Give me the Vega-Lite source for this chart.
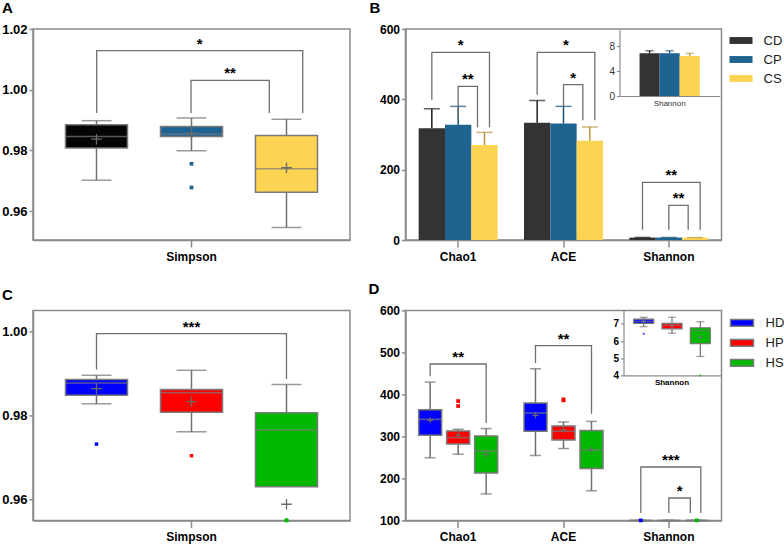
{
"$schema":"https://vega.github.io/schema/vega-lite/v6.json",
"background":"white",
"padding":{"left":0,"top":0,"right":0,"bottom":0},
"config":{
 "font":"Liberation Sans",
 "view":{"stroke":"#8a8a8a","strokeWidth":1.5},
 "axis":{"grid":false,"labelFont":"Liberation Sans","labelFontWeight":"bold","labelFontSize":12,"labelColor":"#000","domainColor":"#8a8a8a","tickColor":"#8a8a8a","domainWidth":1.5,"tickWidth":1.5},
 "legend":{"labelFont":"Liberation Sans","labelFontSize":13,"labelColor":"#222"}
},
"datasets":{
 "a_box":[
  {"metric":"Simpson","group":"CD","lower":0.9702,"q1":0.9808,"median":0.9846,"q3":0.9885,"upper":0.9898,"mean":0.9837},
  {"metric":"Simpson","group":"CP","lower":0.9799,"q1":0.9846,"median":0.9854,"q3":0.9879,"upper":0.9907,"mean":0.9857},
  {"metric":"Simpson","group":"CS","lower":0.9546,"q1":0.9662,"median":0.974,"q3":0.9849,"upper":0.9903,"mean":0.9743}],
 "a_out":[
  {"metric":"Simpson","group":"CP","value":0.9756},
  {"metric":"Simpson","group":"CP","value":0.9678}],
 "a_brk":[
  {"metric":"Simpson","pair":"CD-CS","group":"CD","k":1,"v":0.9923},
  {"metric":"Simpson","pair":"CD-CS","group":"CD","k":2,"v":1.0129},
  {"metric":"Simpson","pair":"CD-CS","group":"CS","k":3,"v":1.0129},
  {"metric":"Simpson","pair":"CD-CS","group":"CS","k":4,"v":0.9923},
  {"metric":"Simpson","pair":"CP-CS","group":"CP","k":1,"v":0.9923},
  {"metric":"Simpson","pair":"CP-CS","group":"CP","k":2,"v":1.0031},
  {"metric":"Simpson","pair":"CP-CS","group":"CS","k":3,"v":1.0031},
  {"metric":"Simpson","pair":"CP-CS","group":"CS","k":4,"v":0.9923}],
 "a_star":[
  {"metric":"Simpson","pair":"CD-CS","group":"CP","v":1.0129,"label":"*"},
  {"metric":"Simpson","pair":"CP-CS","group":"CP","v":1.0031,"label":"**"}],
 "b_bar":[
  {"metric":"Chao1","group":"CD","mean":317.5,"hi":373.5},
  {"metric":"Chao1","group":"CP","mean":328,"hi":380},
  {"metric":"Chao1","group":"CS","mean":270.3,"hi":306},
  {"metric":"ACE","group":"CD","mean":333.7,"hi":397},
  {"metric":"ACE","group":"CP","mean":331,"hi":380},
  {"metric":"ACE","group":"CS","mean":282.5,"hi":321.5},
  {"metric":"Shannon","group":"CD","mean":6.88,"hi":7.3},
  {"metric":"Shannon","group":"CP","mean":6.9,"hi":7.3},
  {"metric":"Shannon","group":"CS","mean":6.45,"hi":6.88}],
 "b_brk":[
  {"metric":"Chao1","pair":"CD-CS","group":"CD","k":1,"v":399},
  {"metric":"Chao1","pair":"CD-CS","group":"CD","k":2,"v":533.7},
  {"metric":"Chao1","pair":"CD-CS","group":"CS","k":3,"v":533.7},
  {"metric":"Chao1","pair":"CD-CS","group":"CS","k":4,"v":320.3},
  {"metric":"Chao1","pair":"CP-CS","group":"CP","k":1,"v":347},
  {"metric":"Chao1","pair":"CP-CS","group":"CP","k":2,"v":437},
  {"metric":"Chao1","pair":"CP-CS","group":"CS","k":3,"v":437},
  {"metric":"Chao1","pair":"CP-CS","group":"CS","k":4,"v":320.3},
  {"metric":"ACE","pair":"CD-CS","group":"CD","k":1,"v":413},
  {"metric":"ACE","pair":"CD-CS","group":"CD","k":2,"v":533.7},
  {"metric":"ACE","pair":"CD-CS","group":"CS","k":3,"v":533.7},
  {"metric":"ACE","pair":"CD-CS","group":"CS","k":4,"v":340.3},
  {"metric":"ACE","pair":"CP-CS","group":"CP","k":1,"v":380},
  {"metric":"ACE","pair":"CP-CS","group":"CP","k":2,"v":441.8},
  {"metric":"ACE","pair":"CP-CS","group":"CS","k":3,"v":441.8},
  {"metric":"ACE","pair":"CP-CS","group":"CS","k":4,"v":340.3},
  {"metric":"Shannon","pair":"CD-CS","group":"CD","k":1,"v":29.3},
  {"metric":"Shannon","pair":"CD-CS","group":"CD","k":2,"v":164},
  {"metric":"Shannon","pair":"CD-CS","group":"CS","k":3,"v":164},
  {"metric":"Shannon","pair":"CD-CS","group":"CS","k":4,"v":29.3},
  {"metric":"Shannon","pair":"CP-CS","group":"CP","k":1,"v":29.3},
  {"metric":"Shannon","pair":"CP-CS","group":"CP","k":2,"v":98.4},
  {"metric":"Shannon","pair":"CP-CS","group":"CS","k":3,"v":98.4},
  {"metric":"Shannon","pair":"CP-CS","group":"CS","k":4,"v":29.3}],
 "b_star":[
  {"metric":"Chao1","pair":"CD-CS","group":"CP","v":533.7,"label":"*"},
  {"metric":"Chao1","pair":"CP-CS","group":"CP","v":437,"label":"**"},
  {"metric":"ACE","pair":"CD-CS","group":"CP","v":533.7,"label":"*"},
  {"metric":"ACE","pair":"CP-CS","group":"CP","v":441.8,"label":"*"},
  {"metric":"Shannon","pair":"CD-CS","group":"CP","v":164,"label":"**"},
  {"metric":"Shannon","pair":"CP-CS","group":"CP","v":98.4,"label":"**"}],
 "c_box":[
  {"metric":"Simpson","group":"HD","lower":0.98276,"q1":0.9848,"median":0.98774,"q3":0.98853,"upper":0.98955,"mean":0.98639},
  {"metric":"Simpson","group":"HP","lower":0.9761,"q1":0.98076,"median":0.98537,"q3":0.98615,"upper":0.99074,"mean":0.9833},
  {"metric":"Simpson","group":"HS","lower":0.96304,"q1":0.96304,"median":0.97648,"q3":0.98062,"upper":0.98734,"mean":0.95884}],
 "c_out":[
  {"metric":"Simpson","group":"HD","value":0.97316},
  {"metric":"Simpson","group":"HP","value":0.9704},
  {"metric":"Simpson","group":"HS","value":0.954},
  {"metric":"Simpson","group":"HS","value":0.9535},
  {"metric":"Simpson","group":"HS","value":0.953}],
 "c_brk":[
  {"metric":"Simpson","pair":"HD-HS","group":"HD","k":1,"v":0.9909},
  {"metric":"Simpson","pair":"HD-HS","group":"HD","k":2,"v":0.99945},
  {"metric":"Simpson","pair":"HD-HS","group":"HS","k":3,"v":0.99945},
  {"metric":"Simpson","pair":"HD-HS","group":"HS","k":4,"v":0.98869}],
 "c_star":[
  {"metric":"Simpson","pair":"HD-HS","group":"HP","v":0.99945,"label":"***"}],
 "d_box":[
  {"metric":"Chao1","group":"HD","lower":249,"q1":302.8,"median":340.7,"q3":363.6,"upper":429.2,"mean":338.3},
  {"metric":"Chao1","group":"HP","lower":257.7,"q1":282.2,"median":297.2,"q3":313,"upper":317,"mean":302.8},
  {"metric":"Chao1","group":"HS","lower":162.9,"q1":212.7,"median":265.6,"q3":301.2,"upper":318.6,"mean":257.7},
  {"metric":"ACE","group":"HD","lower":254.5,"q1":312.3,"median":355.7,"q3":379.4,"upper":461.2,"mean":350.2},
  {"metric":"ACE","group":"HP","lower":271.1,"q1":291.7,"median":312.3,"q3":324.9,"upper":334.4,"mean":315.4},
  {"metric":"ACE","group":"HS","lower":170.7,"q1":223.8,"median":267.6,"q3":314.3,"upper":335.7,"mean":268},
  {"metric":"Shannon","group":"HD","lower":6.83,"q1":7.02,"median":7.15,"q3":7.27,"upper":7.38,"mean":7.15},
  {"metric":"Shannon","group":"HP","lower":6.45,"q1":6.71,"median":6.92,"q3":7.02,"upper":7.38,"mean":6.88},
  {"metric":"Shannon","group":"HS","lower":5.1,"q1":5.85,"median":6.61,"q3":6.77,"upper":7.12,"mean":6.22}],
 "d_out":[
  {"metric":"Chao1","group":"HP","value":384.2},
  {"metric":"Chao1","group":"HP","value":372.3},
  {"metric":"ACE","group":"HP","value":385.8},
  {"metric":"ACE","group":"HP","value":388.1},
  {"metric":"Shannon","group":"HD","value":6.42},
  {"metric":"Shannon","group":"HS","value":4.0}],
 "d_brk":[
  {"metric":"Chao1","pair":"HD-HS","group":"HD","k":1,"v":443},
  {"metric":"Chao1","pair":"HD-HS","group":"HD","k":2,"v":472.4},
  {"metric":"Chao1","pair":"HD-HS","group":"HS","k":3,"v":472.4},
  {"metric":"Chao1","pair":"HD-HS","group":"HS","k":4,"v":332},
  {"metric":"ACE","pair":"HD-HS","group":"HD","k":1,"v":474.8},
  {"metric":"ACE","pair":"HD-HS","group":"HD","k":2,"v":516},
  {"metric":"ACE","pair":"HD-HS","group":"HS","k":3,"v":516},
  {"metric":"ACE","pair":"HD-HS","group":"HS","k":4,"v":354},
  {"metric":"Shannon","pair":"HD-HS","group":"HD","k":1,"v":117.6},
  {"metric":"Shannon","pair":"HD-HS","group":"HD","k":2,"v":227.1},
  {"metric":"Shannon","pair":"HD-HS","group":"HS","k":3,"v":227.1},
  {"metric":"Shannon","pair":"HD-HS","group":"HS","k":4,"v":117.6},
  {"metric":"Shannon","pair":"HP-HS","group":"HP","k":1,"v":117.6},
  {"metric":"Shannon","pair":"HP-HS","group":"HP","k":2,"v":153.3},
  {"metric":"Shannon","pair":"HP-HS","group":"HS","k":3,"v":153.3},
  {"metric":"Shannon","pair":"HP-HS","group":"HS","k":4,"v":117.6}],
 "d_star":[
  {"metric":"Chao1","pair":"HD-HS","group":"HP","v":472.4,"label":"**"},
  {"metric":"ACE","pair":"HD-HS","group":"HP","v":516,"label":"**"},
  {"metric":"Shannon","pair":"HD-HS","group":"HP","v":227.1,"label":"***"},
  {"metric":"Shannon","pair":"HP-HS","group":"HP","v":153.3,"label":"*"}]
},
"columns":2,
"bounds":"flush",
"spacing":{"row":70.4,"column":55.5},
"resolve":{"scale":{"color":"independent","xOffset":"independent","stroke":"independent","fill":"independent"},"legend":{"color":"independent"}},
"concat":[
{
 "width":317,"height":211,
 "title":{"text":"A","anchor":"start","frame":"group","dx":-31,"offset":7,"fontSize":15,"fontWeight":"bold","color":"#000"},
 "layer":[
  {"data":{"name":"a_box"},
   "layer":[
   {"mark":{"type":"rule","color":"#6f6f6f","strokeWidth":1.5},
    "encoding":{
     "x":{"field":"metric","type":"nominal","title":null,"scale":{"paddingInner":0,"paddingOuter":0},"axis":{"labelAngle":0,"tickSize":7,"labelPadding":4}},
     "xOffset":{"field":"group","type":"nominal","scale":{"domain":["CD","CP","CS"],"paddingInner":0.347,"paddingOuter":0.342}},
     "y":{"field":"lower","type":"quantitative","title":null,"scale":{"domain":[0.9505,1.02],"nice":false,"zero":false,"clamp":true},"axis":{"values":[0.96,0.98,1.0,1.02],"format":".2f","tickSize":4,"labelFontSize":13}},
     "y2":{"field":"q1"}}},
   {"mark":{"type":"rule","color":"#6f6f6f","strokeWidth":1.5},
    "encoding":{"x":{"field":"metric","type":"nominal","title":null},"xOffset":{"field":"group","type":"nominal"},"y":{"field":"q3","type":"quantitative","title":null},"y2":{"field":"upper"}}},
   {"mark":{"type":"tick","color":"#6f6f6f","thickness":1.5,"size":30},
    "encoding":{"x":{"field":"metric","type":"nominal","title":null},"xOffset":{"field":"group","type":"nominal"},"y":{"field":"lower","type":"quantitative","title":null}}},
   {"mark":{"type":"tick","color":"#6f6f6f","thickness":1.5,"size":30},
    "encoding":{"x":{"field":"metric","type":"nominal","title":null},"xOffset":{"field":"group","type":"nominal"},"y":{"field":"upper","type":"quantitative","title":null}}},
   {"mark":{"type":"bar","stroke":"#7a7a7a","strokeWidth":1.5},
    "encoding":{"x":{"field":"metric","type":"nominal","title":null},"xOffset":{"field":"group","type":"nominal"},"y":{"field":"q1","type":"quantitative","title":null},"y2":{"field":"q3"},
     "color":{"field":"group","type":"nominal","scale":{"domain":["CD","CP","CS"],"range":["#050505","#1c6393","#fdd452"]},"legend":null}}},
   {"mark":{"type":"tick","color":"#7a7a7a","thickness":1.5,"size":62},
    "encoding":{"x":{"field":"metric","type":"nominal","title":null},"xOffset":{"field":"group","type":"nominal"},"y":{"field":"median","type":"quantitative","title":null}}},
   {"mark":{"type":"point","shape":"M-1,0H1M0,-1V1","filled":false,"color":"#6a6a6a","strokeWidth":1.3,"size":110,"opacity":1},
    "encoding":{"x":{"field":"metric","type":"nominal","title":null},"xOffset":{"field":"group","type":"nominal"},"y":{"field":"mean","type":"quantitative","title":null}}},
   {"data":{"name":"a_out"},"mark":{"type":"point","shape":"square","filled":true,"size":14,"opacity":1},
    "encoding":{"x":{"field":"metric","type":"nominal","title":null},"xOffset":{"field":"group","type":"nominal"},"y":{"field":"value","type":"quantitative","title":null},
     "color":{"field":"group","type":"nominal","legend":null}}}
  ]},
  {"layer":[
   {"data":{"name":"a_brk"},"transform":[{"filter":{"field":"pair","equal":"CD-CS"}}],"mark":{"type":"line","color":"#6f6f6f","strokeWidth":1.3},
    "encoding":{"x":{"field":"metric","type":"nominal","title":null},"xOffset":{"field":"group","type":"nominal","scale":{"type":"point","domain":["CD","CP","CS"],"range":[63.7,269.7],"padding":0}},"y":{"field":"v","type":"quantitative","title":null},"order":{"field":"k","type":"quantitative"}}},
   {"data":{"name":"a_star"},"transform":[{"filter":{"field":"pair","equal":"CD-CS"}}],"mark":{"type":"text","fontSize":15,"fontWeight":"bold","baseline":"alphabetic","dy":-2,"color":"#000"},
    "encoding":{"x":{"field":"metric","type":"nominal","title":null},"xOffset":{"field":"group","type":"nominal"},"y":{"field":"v","type":"quantitative","title":null},"text":{"field":"label"}}}
  ]},
  {"layer":[
   {"data":{"name":"a_brk"},"transform":[{"filter":{"field":"pair","equal":"CP-CS"}}],"mark":{"type":"line","color":"#6f6f6f","strokeWidth":1.3},
    "encoding":{"x":{"field":"metric","type":"nominal","title":null},"xOffset":{"field":"group","type":"nominal","scale":{"type":"point","domain":["CD","CP","CS"],"range":[79.7,236.3],"padding":0}},"y":{"field":"v","type":"quantitative","title":null},"order":{"field":"k","type":"quantitative"}}},
   {"data":{"name":"a_star"},"transform":[{"filter":{"field":"pair","equal":"CP-CS"}}],"mark":{"type":"text","fontSize":15,"fontWeight":"bold","baseline":"alphabetic","dy":-2,"dx":39,"color":"#000"},
    "encoding":{"x":{"field":"metric","type":"nominal","title":null},"xOffset":{"field":"group","type":"nominal"},"y":{"field":"v","type":"quantitative","title":null},"text":{"field":"label"}}}
  ]}
 ],
 "resolve":{"scale":{"xOffset":"independent"}}
},
{
 "width":316,"height":211,
 "title":{"text":"B","anchor":"start","frame":"group","dx":-36,"offset":7,"fontSize":15,"fontWeight":"bold","color":"#000"},
 "layer":[
  {"layer":[
   {"data":{"name":"b_bar"},
    "layer":[
    {"mark":{"type":"bar"},
     "encoding":{
      "x":{"field":"metric","type":"nominal","title":null,"sort":["Chao1","ACE","Shannon"],"scale":{"domain":["Chao1","ACE","Shannon"],"paddingInner":0,"paddingOuter":0},"axis":{"orient":"bottom","labelAngle":0,"tickSize":7,"labelPadding":4}},
      "xOffset":{"field":"group","type":"nominal","scale":{"domain":["CD","CP","CS"],"paddingInner":0,"paddingOuter":0.5}},
      "y":{"field":"mean","type":"quantitative","title":null,"scale":{"domain":[0,600],"nice":false},"axis":{"orient":"left","values":[0,200,400,600],"tickSize":4}},
      "color":{"field":"group","type":"nominal","scale":{"domain":["CD","CP","CS"],"range":["#333333","#1f6391","#fdd452"]},
       "legend":{"title":null,"orient":"right","offset":8,"padding":0,"rowPadding":0,"symbolType":"M-1,-0.3H1V0.3H-1Z","symbolSize":529,"symbolStrokeWidth":0,"labelOffset":11,"labelFontSize":13}}}},
    {"mark":{"type":"rule","strokeWidth":1.5},
     "encoding":{"x":{"field":"metric","type":"nominal","title":null},"xOffset":{"field":"group","type":"nominal"},"y":{"field":"mean","type":"quantitative","title":null},"y2":{"field":"hi"},
      "stroke":{"field":"group","type":"nominal","scale":{"domain":["CD","CP","CS"],"range":["#1e1e1e","#17507a","#b8943a"]},"legend":null}}},
    {"mark":{"type":"tick","thickness":1.5,"size":16},
     "encoding":{"x":{"field":"metric","type":"nominal","title":null},"xOffset":{"field":"group","type":"nominal"},"y":{"field":"hi","type":"quantitative","title":null},
      "fill":{"field":"group","type":"nominal","scale":{"domain":["CD","CP","CS"],"range":["#1e1e1e","#17507a","#b8943a"]},"legend":null}}}
   ]},
   {"layer":[
    {"data":{"name":"b_brk"},"transform":[{"filter":{"field":"pair","equal":"CD-CS"}}],"mark":{"type":"line","color":"#6f6f6f","strokeWidth":1.3},
     "encoding":{"x":{"field":"metric","type":"nominal","title":null},"xOffset":{"field":"group","type":"nominal","scale":{"type":"point","domain":["CD","CP","CS"],"range":[26.33,84],"padding":0}},"y":{"field":"v","type":"quantitative","title":null},"detail":{"field":"metric"},"order":{"field":"k","type":"quantitative"}}},
    {"data":{"name":"b_star"},"transform":[{"filter":{"field":"pair","equal":"CD-CS"}}],"mark":{"type":"text","fontSize":15,"fontWeight":"bold","baseline":"alphabetic","dy":-2,"color":"#000"},
     "encoding":{"x":{"field":"metric","type":"nominal","title":null},"xOffset":{"field":"group","type":"nominal"},"y":{"field":"v","type":"quantitative","title":null},"text":{"field":"label"}}}
   ]},
   {"layer":[
    {"data":{"name":"b_brk"},"transform":[{"filter":{"field":"pair","equal":"CP-CS"}}],"mark":{"type":"line","color":"#6f6f6f","strokeWidth":1.3},
     "encoding":{"x":{"field":"metric","type":"nominal","title":null},"xOffset":{"field":"group","type":"nominal","scale":{"type":"point","domain":["CD","CP","CS"],"range":[33.33,72],"padding":0}},"y":{"field":"v","type":"quantitative","title":null},"detail":{"field":"metric"},"order":{"field":"k","type":"quantitative"}}},
    {"data":{"name":"b_star"},"transform":[{"filter":{"field":"pair","equal":"CP-CS"}}],"mark":{"type":"text","fontSize":15,"fontWeight":"bold","baseline":"alphabetic","dy":-2,"dx":9.7,"color":"#000"},
     "encoding":{"x":{"field":"metric","type":"nominal","title":null},"xOffset":{"field":"group","type":"nominal"},"y":{"field":"v","type":"quantitative","title":null},"text":{"field":"label"}}}
   ]}
  ],
  "resolve":{"scale":{"xOffset":"independent"}}},
  {"data":{"name":"b_bar"},"transform":[{"filter":{"field":"metric","equal":"Shannon"}}],
   "layer":[
   {"mark":{"type":"bar"},
    "encoding":{
     "x":{"field":"metric","type":"nominal","title":null,"scale":{"range":[214,314.3],"paddingInner":0,"paddingOuter":0},"axis":{"orient":"bottom","offset":-144,"ticks":false,"labelAngle":0,"labelFontSize":8,"labelFontWeight":"normal","labelColor":"#333","labelPadding":3,"domainWidth":1.2}},
     "xOffset":{"field":"group","type":"nominal","scale":{"domain":["CD","CP","CS"],"paddingInner":0,"paddingOuter":2.2}},
     "y":{"field":"mean","type":"quantitative","title":null,"scale":{"domain":[0,10.7],"nice":false,"range":[67,0.7]},"axis":{"orient":"left","offset":-214,"values":[0,4,8],"labelFontWeight":"normal","labelFontSize":10,"labelColor":"#333","tickSize":3,"labelPadding":2,"domainWidth":1.2,"tickWidth":1.2}},
     "color":{"field":"group","type":"nominal"}}},
   {"mark":{"type":"rule","strokeWidth":1.3},
    "encoding":{"x":{"field":"metric","type":"nominal","title":null},"xOffset":{"field":"group","type":"nominal"},"y":{"field":"mean","type":"quantitative","title":null},"y2":{"field":"hi"},
     "stroke":{"field":"group","type":"nominal","legend":null}}},
   {"mark":{"type":"tick","thickness":1.3,"size":8},
    "encoding":{"x":{"field":"metric","type":"nominal","title":null},"xOffset":{"field":"group","type":"nominal"},"y":{"field":"hi","type":"quantitative","title":null},
     "fill":{"field":"group","type":"nominal","legend":null}}}
  ]}
 ],
 "resolve":{"scale":{"x":"independent","y":"independent","xOffset":"independent"}}
},
{
 "width":317,"height":210,
 "title":{"text":"C","anchor":"start","frame":"group","dx":-31,"offset":7,"fontSize":15,"fontWeight":"bold","color":"#000"},
 "layer":[
  {"data":{"name":"c_box"},"mark":{"type":"rule","color":"#6f6f6f","strokeWidth":1.5},
   "encoding":{
    "x":{"field":"metric","type":"nominal","title":null,"scale":{"paddingInner":0,"paddingOuter":0},"axis":{"labelAngle":0,"tickSize":7,"labelPadding":4}},
    "xOffset":{"field":"group","type":"nominal","scale":{"domain":["HD","HP","HS"],"paddingInner":0.347,"paddingOuter":0.342}},
    "y":{"field":"lower","type":"quantitative","title":null,"scale":{"domain":[0.955,1.005],"nice":false,"zero":false,"clamp":true},"axis":{"values":[0.96,0.98,1.0],"format":".2f","tickSize":4,"labelFontSize":13}},
    "y2":{"field":"q1"}}},
  {"data":{"name":"c_box"},"mark":{"type":"rule","color":"#6f6f6f","strokeWidth":1.5},
   "encoding":{"x":{"field":"metric","type":"nominal","title":null},"xOffset":{"field":"group","type":"nominal"},"y":{"field":"q3","type":"quantitative","title":null},"y2":{"field":"upper"}}},
  {"data":{"name":"c_box"},"transform":[{"filter":"datum.lower < datum.q1"}],"mark":{"type":"tick","color":"#6f6f6f","thickness":1.5,"size":30},
   "encoding":{"x":{"field":"metric","type":"nominal","title":null},"xOffset":{"field":"group","type":"nominal"},"y":{"field":"lower","type":"quantitative","title":null}}},
  {"data":{"name":"c_box"},"mark":{"type":"tick","color":"#6f6f6f","thickness":1.5,"size":30},
   "encoding":{"x":{"field":"metric","type":"nominal","title":null},"xOffset":{"field":"group","type":"nominal"},"y":{"field":"upper","type":"quantitative","title":null}}},
  {"data":{"name":"c_box"},"mark":{"type":"bar","stroke":"#7a7a7a","strokeWidth":1.5},
   "encoding":{"x":{"field":"metric","type":"nominal","title":null},"xOffset":{"field":"group","type":"nominal"},"y":{"field":"q1","type":"quantitative","title":null},"y2":{"field":"q3"},
    "color":{"field":"group","type":"nominal","scale":{"domain":["HD","HP","HS"],"range":["#0000ff","#ff0000","#00b800"]},"legend":null}}},
  {"data":{"name":"c_box"},"mark":{"type":"tick","color":"#7a7a7a","thickness":1.5,"size":62},
   "encoding":{"x":{"field":"metric","type":"nominal","title":null},"xOffset":{"field":"group","type":"nominal"},"y":{"field":"median","type":"quantitative","title":null}}},
  {"data":{"name":"c_box"},"mark":{"type":"point","shape":"M-1,0H1M0,-1V1","filled":false,"color":"#6a6a6a","strokeWidth":1.3,"size":110,"opacity":1},
   "encoding":{"x":{"field":"metric","type":"nominal","title":null},"xOffset":{"field":"group","type":"nominal"},"y":{"field":"mean","type":"quantitative","title":null}}},
  {"data":{"name":"c_out"},"mark":{"type":"point","shape":"square","filled":true,"size":12,"opacity":1},
   "encoding":{"x":{"field":"metric","type":"nominal","title":null},"xOffset":{"field":"group","type":"nominal"},"y":{"field":"value","type":"quantitative","title":null},
    "color":{"field":"group","type":"nominal","legend":null}}},
  {"data":{"name":"c_brk"},"mark":{"type":"line","color":"#6f6f6f","strokeWidth":1.3},
   "encoding":{"x":{"field":"metric","type":"nominal","title":null},"xOffset":{"field":"group","type":"nominal"},"y":{"field":"v","type":"quantitative","title":null},"detail":{"field":"pair"},"order":{"field":"k","type":"quantitative"}}},
  {"data":{"name":"c_star"},"mark":{"type":"text","fontSize":15,"fontWeight":"bold","baseline":"alphabetic","dy":-2,"color":"#000"},
   "encoding":{"x":{"field":"metric","type":"nominal","title":null},"xOffset":{"field":"group","type":"nominal"},"y":{"field":"v","type":"quantitative","title":null},"text":{"field":"label"}}}
 ]
},
{
 "width":316,"height":210,
 "title":{"text":"D","anchor":"start","frame":"group","dx":-37,"offset":7,"fontSize":15,"fontWeight":"bold","color":"#000"},
 "layer":[
  {"layer":[
   {"data":{"name":"d_box"},
    "layer":[
    {"mark":{"type":"rule","color":"#6f6f6f","strokeWidth":1.5},
     "encoding":{
      "x":{"field":"metric","type":"nominal","title":null,"sort":["Chao1","ACE","Shannon"],"scale":{"domain":["Chao1","ACE","Shannon"],"paddingInner":0,"paddingOuter":0},"axis":{"orient":"bottom","labelAngle":0,"tickSize":7,"labelPadding":4}},
      "xOffset":{"field":"group","type":"nominal","scale":{"domain":["HD","HP","HS"],"paddingInner":0.179,"paddingOuter":0.47}},
      "y":{"field":"lower","type":"quantitative","title":null,"scale":{"domain":[100,600],"nice":false,"zero":false,"clamp":true},"axis":{"orient":"left","values":[100,200,300,400,500,600],"tickSize":4}},
      "y2":{"field":"q1"}}},
    {"mark":{"type":"rule","color":"#6f6f6f","strokeWidth":1.5},
     "encoding":{"x":{"field":"metric","type":"nominal","title":null},"xOffset":{"field":"group","type":"nominal"},"y":{"field":"q3","type":"quantitative","title":null},"y2":{"field":"upper"}}},
    {"mark":{"type":"tick","color":"#6f6f6f","thickness":1.5,"size":11},
     "encoding":{"x":{"field":"metric","type":"nominal","title":null},"xOffset":{"field":"group","type":"nominal"},"y":{"field":"lower","type":"quantitative","title":null}}},
    {"mark":{"type":"tick","color":"#6f6f6f","thickness":1.5,"size":11},
     "encoding":{"x":{"field":"metric","type":"nominal","title":null},"xOffset":{"field":"group","type":"nominal"},"y":{"field":"upper","type":"quantitative","title":null}}},
    {"mark":{"type":"bar","stroke":"#7a7a7a","strokeWidth":1.5},
     "encoding":{"x":{"field":"metric","type":"nominal","title":null},"xOffset":{"field":"group","type":"nominal"},"y":{"field":"q1","type":"quantitative","title":null},"y2":{"field":"q3"},
      "color":{"field":"group","type":"nominal","scale":{"domain":["HD","HP","HS"],"range":["#0000ff","#ff0000","#00b800"]},
       "legend":{"title":null,"orient":"right","offset":8,"padding":0,"rowPadding":0,"symbolType":"M-1,-0.3H1V0.3H-1Z","symbolSize":529,"symbolStrokeColor":"#808080","symbolStrokeWidth":1.5,"labelOffset":11,"labelFontSize":13}}}},
    {"mark":{"type":"tick","color":"#7a7a7a","thickness":1.5,"size":23},
     "encoding":{"x":{"field":"metric","type":"nominal","title":null},"xOffset":{"field":"group","type":"nominal"},"y":{"field":"median","type":"quantitative","title":null}}},
    {"transform":[{"filter":{"field":"metric","oneOf":["Chao1","ACE"]}}],"mark":{"type":"point","shape":"M-1,0H1M0,-1V1","filled":false,"color":"#6a6a6a","strokeWidth":1.2,"size":36,"opacity":1},
     "encoding":{"x":{"field":"metric","type":"nominal","title":null},"xOffset":{"field":"group","type":"nominal"},"y":{"field":"mean","type":"quantitative","title":null}}},
    {"data":{"name":"d_out"},"mark":{"type":"point","shape":"square","filled":true,"size":14,"opacity":1},
     "encoding":{"x":{"field":"metric","type":"nominal","title":null},"xOffset":{"field":"group","type":"nominal"},"y":{"field":"value","type":"quantitative","title":null},
      "color":{"field":"group","type":"nominal","legend":null}}},
    {"data":{"name":"d_brk"},"transform":[{"filter":{"field":"metric","oneOf":["Chao1","ACE"]}}],"mark":{"type":"line","color":"#6f6f6f","strokeWidth":1.3},
     "encoding":{"x":{"field":"metric","type":"nominal","title":null},"xOffset":{"field":"group","type":"nominal"},"y":{"field":"v","type":"quantitative","title":null},"detail":{"field":"metric"},"order":{"field":"k","type":"quantitative"}}},
    {"data":{"name":"d_star"},"transform":[{"filter":{"field":"metric","oneOf":["Chao1","ACE"]}}],"mark":{"type":"text","fontSize":15,"fontWeight":"bold","baseline":"alphabetic","dy":-2,"color":"#000"},
     "encoding":{"x":{"field":"metric","type":"nominal","title":null},"xOffset":{"field":"group","type":"nominal"},"y":{"field":"v","type":"quantitative","title":null},"text":{"field":"label"}}}
   ]},
   {"layer":[
    {"data":{"name":"d_brk"},"transform":[{"filter":"datum.metric == 'Shannon' && datum.pair == 'HD-HS'"}],"mark":{"type":"line","color":"#6f6f6f","strokeWidth":1.3},
     "encoding":{"x":{"field":"metric","type":"nominal","title":null},"xOffset":{"field":"group","type":"nominal","scale":{"type":"point","domain":["HD","HP","HS"],"range":[24.67,84.67],"padding":0}},"y":{"field":"v","type":"quantitative","title":null},"order":{"field":"k","type":"quantitative"}}},
    {"data":{"name":"d_star"},"transform":[{"filter":"datum.metric == 'Shannon' && datum.pair == 'HD-HS'"}],"mark":{"type":"text","fontSize":15,"fontWeight":"bold","baseline":"alphabetic","dy":-2,"color":"#000"},
     "encoding":{"x":{"field":"metric","type":"nominal","title":null},"xOffset":{"field":"group","type":"nominal"},"y":{"field":"v","type":"quantitative","title":null},"text":{"field":"label"}}}
   ]},
   {"layer":[
    {"data":{"name":"d_brk"},"transform":[{"filter":{"field":"pair","equal":"HP-HS"}}],"mark":{"type":"line","color":"#6f6f6f","strokeWidth":1.3},
     "encoding":{"x":{"field":"metric","type":"nominal","title":null},"xOffset":{"field":"group","type":"nominal","scale":{"type":"point","domain":["HD","HP","HS"],"range":[31.17,74.17],"padding":0}},"y":{"field":"v","type":"quantitative","title":null},"order":{"field":"k","type":"quantitative"}}},
    {"data":{"name":"d_star"},"transform":[{"filter":{"field":"pair","equal":"HP-HS"}}],"mark":{"type":"text","fontSize":15,"fontWeight":"bold","baseline":"alphabetic","dy":-2,"dx":10.75,"color":"#000"},
     "encoding":{"x":{"field":"metric","type":"nominal","title":null},"xOffset":{"field":"group","type":"nominal"},"y":{"field":"v","type":"quantitative","title":null},"text":{"field":"label"}}}
   ]}
  ],
  "resolve":{"scale":{"xOffset":"independent"}}},
  {"data":{"name":"d_box"},"transform":[{"filter":{"field":"metric","equal":"Shannon"}}],
   "layer":[
   {"mark":{"type":"rule","color":"#6f6f6f","strokeWidth":1.2},
    "encoding":{
     "x":{"field":"metric","type":"nominal","title":null,"scale":{"range":[218,315],"paddingInner":0,"paddingOuter":0},"axis":{"orient":"bottom","offset":-145,"ticks":false,"labelAngle":0,"labelFontSize":8,"labelPadding":3,"domainWidth":1.2}},
     "xOffset":{"field":"group","type":"nominal","scale":{"domain":["HD","HP","HS"],"paddingInner":0.293,"paddingOuter":0.36}},
     "y":{"field":"lower","type":"quantitative","title":null,"scale":{"domain":[4,7.78],"nice":false,"zero":false,"range":[65,0]},"axis":{"orient":"left","offset":-218,"values":[4,5,6,7],"format":"d","labelFontSize":10,"tickSize":3,"labelPadding":2,"domainWidth":1.2,"tickWidth":1.2}},
     "y2":{"field":"q1"}}},
   {"mark":{"type":"rule","color":"#6f6f6f","strokeWidth":1.2},
    "encoding":{"x":{"field":"metric","type":"nominal","title":null},"xOffset":{"field":"group","type":"nominal"},"y":{"field":"q3","type":"quantitative","title":null},"y2":{"field":"upper"}}},
   {"mark":{"type":"tick","color":"#6f6f6f","thickness":1.2,"size":8},
    "encoding":{"x":{"field":"metric","type":"nominal","title":null},"xOffset":{"field":"group","type":"nominal"},"y":{"field":"lower","type":"quantitative","title":null}}},
   {"mark":{"type":"tick","color":"#6f6f6f","thickness":1.2,"size":8},
    "encoding":{"x":{"field":"metric","type":"nominal","title":null},"xOffset":{"field":"group","type":"nominal"},"y":{"field":"upper","type":"quantitative","title":null}}},
   {"mark":{"type":"bar","stroke":"#7a7a7a","strokeWidth":1.2},
    "encoding":{"x":{"field":"metric","type":"nominal","title":null},"xOffset":{"field":"group","type":"nominal"},"y":{"field":"q1","type":"quantitative","title":null},"y2":{"field":"q3"},
     "color":{"field":"group","type":"nominal"}}},
   {"mark":{"type":"tick","color":"#7a7a7a","thickness":1.2,"size":20},
    "encoding":{"x":{"field":"metric","type":"nominal","title":null},"xOffset":{"field":"group","type":"nominal"},"y":{"field":"median","type":"quantitative","title":null}}},
   {"mark":{"type":"point","shape":"M-1,0H1M0,-1V1","filled":false,"color":"#7a7a7a","strokeWidth":1,"size":20,"opacity":1},
    "encoding":{"x":{"field":"metric","type":"nominal","title":null},"xOffset":{"field":"group","type":"nominal"},"y":{"field":"mean","type":"quantitative","title":null}}},
   {"data":{"name":"d_out"},"transform":[{"filter":{"field":"metric","equal":"Shannon"}}],"mark":{"type":"point","shape":"square","filled":true,"size":4,"opacity":0.7},
    "encoding":{"x":{"field":"metric","type":"nominal","title":null},"xOffset":{"field":"group","type":"nominal"},"y":{"field":"value","type":"quantitative","title":null},
     "color":{"field":"group","type":"nominal","legend":null}}}
  ]}
 ],
 "resolve":{"scale":{"x":"independent","y":"independent","xOffset":"independent"}}
}
]
}
